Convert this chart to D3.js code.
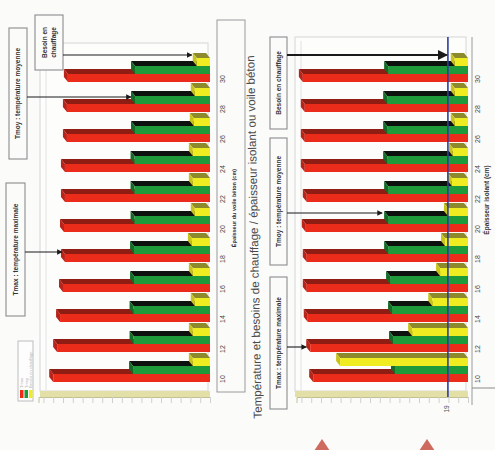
<!DOCTYPE html>
<html><head><meta charset="utf-8">
<script src="https://cdn.jsdelivr.net/npm/d3@7"></script>
<style>body{margin:0;background:#fbfbfa;} svg{display:block}</style>
</head><body><svg id="c" width="495" height="450"></svg>
<script>
// ---- data ----
const categories = ["10","12","14","16","18","20","22","24","26","28","30"];
// Left panel: épaisseur du voile béton
const wallTmax   = [32.0,31.2,30.6,30.0,29.6,29.8,29.6,29.6,29.2,29.2,29.0];
const wallTmoy   = [15.7,15.6,15.6,15.5,15.5,15.4,15.4,15.4,15.3,15.3,15.3];
const wallBesoin = [3.5,3.5,3.1,3.5,3.7,3.1,3.5,3.5,3.3,3.1,2.7];
// Right panel: épaisseur isolant
const insTmax    = [31.6,32.2,32.7,32.9,32.9,33.1,32.9,33.3,33.3,33.3,33.7];
const insTmoy    = [14.9,15.3,15.5,15.9,16.3,16.3,16.3,16.5,16.5,16.5,16.3];
const insBesoin  = [26.1,11.4,7.3,5.7,4.7,4.1,3.3,3.1,2.7,2.7,2.7];
const seriesNames = ["Tmax : température maximale","Tmoy : température moyenne","Besoin en chauffage"];
const legendNames = ["Tmax","Tmoy","Besoin en chauffage"];
const refValue = 4.1;
const refLabel = "19";
const title = "Température et besoins de chauffage / épaisseur isolant ou voile béton";
const leftAxisTitle = "Épaisseur du voile béton (cm)";
const rightAxisTitle = "Épaisseur isolant (cm)";

// ---- drawing ----
const svg = d3.select("#c");
const W = 495, H = 450;
svg.append("rect").attr("width", W).attr("height", H).attr("fill", "#fbfbfa");
const defs = svg.append("defs");
defs.append("marker").attr("id","arr").attr("viewBox","0 0 8 8").attr("refX",7).attr("refY",4)
  .attr("markerWidth",5).attr("markerHeight",5).attr("orient","auto")
  .append("path").attr("d","M0,0 L8,4 L0,8 z").attr("fill","#1a1a1a");

const yBand = d3.scaleBand().domain(categories).range([392, 62]);
const cy = c => yBand(c) + yBand.bandwidth() / 2;

const styles = [
  {front:"#ec2c1b", side:"#8f1d13", end:"#b8231a", off:[-3,5]},
  {front:"#1f9a3b", side:"#0e120e", end:"#146b28", off:[-11,-3]},
  {front:"#f0ec22", side:"#8c8a2c", end:"#c9c21d", off:[-19,-11]}
];
const SK = 4, DP = 5;

function bar3d(g, xEnd, y0, y1, x0, st) {
  g.append("polygon")
    .attr("points", [[xEnd-SK, y0-DP],[x0-SK, y0-DP],[x0, y0],[xEnd, y0]].join(" "))
    .attr("fill", st.side);
  g.append("polygon")
    .attr("points", [[xEnd-SK, y0-DP],[xEnd, y0],[xEnd, y1],[xEnd-SK, y1-DP]].join(" "))
    .attr("fill", st.end);
  g.append("rect").attr("x", xEnd).attr("y", y0).attr("width", x0 - xEnd).attr("height", y1 - y0)
    .attr("fill", st.front);
}

function rtext(g, x, y, txt, size, opts = {}) {
  return g.append("text")
    .attr("transform", `translate(${x},${y}) rotate(${opts.angle ?? -90})`)
    .attr("text-anchor", "middle")
    .attr("font-family", "Liberation Sans, Arial, sans-serif")
    .attr("font-size", size)
    .attr("font-weight", opts.weight || "normal")
    .attr("fill", opts.fill || "#333")
    .text(txt);
}

function drawPanel(p, vals) {
  const x = d3.scaleLinear().domain([0, 35]).range([p.x0, p.x0 - 171.5]);
  const g = svg.append("g");
  // back wall
  g.append("rect").attr("x", p.wallX).attr("y", p.top).attr("width", p.x0 - p.wallX - 2)
    .attr("height", 391 - p.top).attr("fill", "#fdfdfc").attr("stroke", "#d6d6d6");
  g.append("line").attr("x1", p.wallX + 6).attr("x2", p.wallX + 6).attr("y1", p.top + 4).attr("y2", 390)
    .attr("stroke", "#e2e2e2");
  // floor
  g.append("rect").attr("x", p.wallX).attr("y", 391).attr("width", p.x0 - p.wallX).attr("height", 6)
    .attr("fill", "#e2e0a6");
  const ax = d3.axisBottom(x).tickValues(d3.range(0, 35, 2)).tickFormat("").tickSize(6);
  const axg = g.append("g").attr("transform", "translate(0,397)").call(ax);
  axg.select(".domain").attr("stroke", "#c2c092");
  axg.selectAll(".tick line").attr("stroke", "#cfcfcf");
  // bars
  d3.range(categories.length).reverse().forEach(i => {
    const c = cy(categories[i]);
    styles.forEach((st, k) => {
      bar3d(g, x(vals[k][i]), c + st.off[0], c + st.off[1], p.x0, st);
    });
  });
  // category labels
  categories.forEach(cat => rtext(g, p.labelX, cy(cat) + 2, cat, 7, {fill:"#444"}));
  return x;
}

const xL = drawPanel({x0:210, wallX:40, top:43, labelX:225}, [wallTmax, wallTmoy, wallBesoin]);
const xR = drawPanel({x0:468, wallX:295, top:37, labelX:480}, [insTmax, insTmoy, insBesoin]);

const ga = svg.append("g");
// category axis boxes
ga.append("rect").attr("x",217).attr("y",20).attr("width",28).attr("height",372)
  .attr("fill","none").attr("stroke","#9a9a9a");
rtext(ga, 236, 208, leftAxisTitle, 5.5, {weight:"bold", fill:"#333"});
ga.append("line").attr("x1",472).attr("x2",472).attr("y1",37).attr("y2",405).attr("stroke","#9a9a9a");
ga.append("line").attr("x1",472).attr("x2",495).attr("y1",388).attr("y2",388).attr("stroke","#8a8a8a");
rtext(ga, 489, 200, rightAxisTitle, 6.5, {weight:"bold", fill:"#333"});

// reference line (right)
ga.append("line").attr("x1", xR(refValue)).attr("x2", xR(refValue)).attr("y1", 37).attr("y2", 397)
  .attr("stroke", "#2b3d9e").attr("stroke-width", 1.6);
rtext(ga, xR(refValue) + 1, 409, refLabel, 6.5, {fill:"#555"});

// title
rtext(ga, 258, 237, title, 11.6, {fill:"#4a4a4a", angle:-91.2});

// annotation boxes
function annBox(b, lines, size) {
  ga.append("rect").attr("x", b.x).attr("y", b.y).attr("width", b.w).attr("height", b.h)
    .attr("fill", "#fbfbfa").attr("stroke", "#8c8c8c").attr("stroke-width", 1.1);
  const n = lines.length;
  lines.forEach((t, j) => {
    const bx = b.x + b.w / 2 + (j - (n - 1) / 2) * (size + 2) + size * 0.35;
    rtext(ga, bx, b.y + b.h / 2, t, size, {fill:"#333", weight:"bold"});
  });
}
function arrow(x1, y, x2, w) {
  ga.append("line").attr("x1", x1).attr("y1", y).attr("x2", x2).attr("y2", y)
    .attr("stroke", "#1a1a1a").attr("stroke-width", w || 1.1).attr("marker-end", "url(#arr)");
}
const iTop = categories.length - 1;
// left panel annotations
annBox({x:35, y:15, w:28, h:55}, ["Besoin en", "chauffage"], 6.5);
arrow(63, cy(categories[iTop]) - 22, xL(wallBesoin[iTop]) - SK - 1);
annBox({x:9, y:28, w:18, h:131}, [seriesNames[1]], 6.5);
arrow(27, cy(categories[iTop - 1]) - 10, xL(wallTmoy[iTop - 1]) - SK);
annBox({x:6, y:183, w:19, h:133}, [seriesNames[0]], 6.5);
arrow(25, cy(categories[4]) - 5, xL(wallTmax[4]) - 3);
// right panel annotations
annBox({x:270, y:37, w:17, h:92}, [seriesNames[2]], 6.5);
arrow(287, cy(categories[iTop]) - 22, xR(insBesoin[iTop]) - SK - 4, 2);
annBox({x:270, y:138, w:17, h:127}, [seriesNames[1]], 6.5);
arrow(287, cy(categories[5]) - 14, xR(insTmoy[5]) - SK - 2);
annBox({x:270, y:277, w:17, h:132}, [seriesNames[0]], 6.5);
arrow(287, cy(categories[1]), xR(insTmax[1]) - 4);

// legend
ga.append("rect").attr("x",18).attr("y",341).attr("width",15).attr("height",60)
  .attr("fill","#fdfdfd").attr("stroke","#bdbdbd");
legendNames.forEach((n, k) => {
  const lx = 20 + k * 4.5;
  ga.append("rect").attr("x", lx).attr("y", 390).attr("width", 3.5).attr("height", 8)
    .attr("fill", styles[k].front);
  ga.append("text").attr("transform", `translate(${lx + 3},388) rotate(-90)`)
    .attr("font-family","Liberation Sans, Arial, sans-serif").attr("font-size", 4)
    .attr("fill", "#b5b5b5").text(n);
});

// fragments of the next figure at the bottom edge
[322, 427].forEach(tx => {
  ga.append("polygon").attr("points", [[tx-8,451],[tx,439],[tx+8,451]].join(" "))
    .attr("fill", "#c0392b").attr("opacity", 0.75);
});
</script></body></html>
